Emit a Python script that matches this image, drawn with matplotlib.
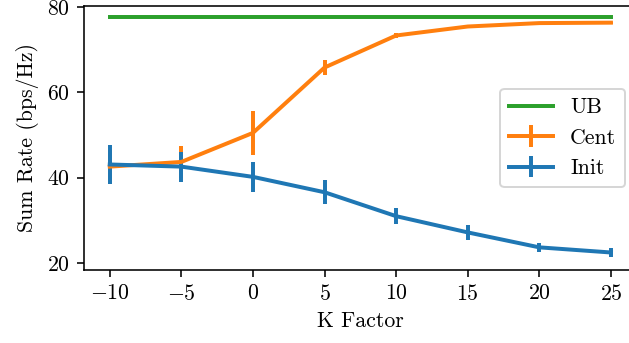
import matplotlib
matplotlib.use('Agg')
import matplotlib.pyplot as plt

# data
k_factor = [-10, -5, 0, 5, 10, 15, 20, 25]
ub = [77.6, 77.6, 77.6, 77.6, 77.6, 77.6, 77.6, 77.6]
cent = [42.6, 43.7, 50.5, 65.8, 73.3, 75.4, 76.2, 76.3]
cent_err = [4.0, 3.8, 5.2, 1.8, 0.5, 0.3, 0.2, 0.2]
init = [43.1, 42.6, 40.2, 36.6, 31.0, 27.2, 23.7, 22.5]
init_err = [4.5, 3.5, 3.5, 2.8, 1.8, 1.7, 1.1, 1.1]

plt.rcParams['font.family'] = 'cmr10'
plt.rcParams['mathtext.fontset'] = 'cm'
plt.rcParams['axes.formatter.use_mathtext'] = True
plt.rcParams['font.size'] = 11

DPI = 143
fig = plt.figure(figsize=(629/DPI, 343/DPI), dpi=DPI)
ax = fig.add_axes([84/629, 1 - 270/343, (636-84)/629, (270-6)/343])

ax.plot(k_factor, ub, color='tab:green', lw=2, label='UB')
ax.errorbar(k_factor, cent, yerr=cent_err, color='tab:orange', lw=2, label='Cent')
ax.errorbar(k_factor, init, yerr=init_err, color='tab:blue', lw=2, label='Init')

ax.set_xlim(-11.8, 26.75)
ax.set_ylim(18.4, 80.2)
ax.set_xticks([-10, -5, 0, 5, 10, 15, 20, 25])
ax.set_yticks([20, 40, 60, 80])
ax.set_xlabel('K Factor')
ax.set_ylabel('Sum Rate (bps/Hz)')
ax.legend(loc='center right', bbox_to_anchor=(1.0, 0.5))

fig.savefig('out.png', dpi=DPI)
